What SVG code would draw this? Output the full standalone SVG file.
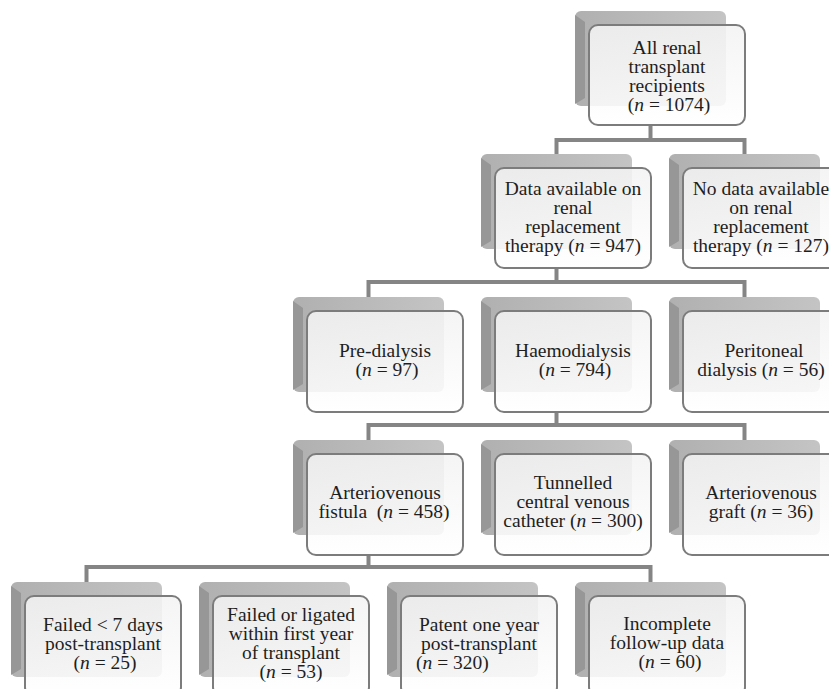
<svg xmlns="http://www.w3.org/2000/svg" width="829" height="689" viewBox="0 0 829 689">
<defs>
<linearGradient id="fg" x1="0" y1="0" x2="0" y2="1">
<stop offset="0" stop-color="#f3f3f3"/>
<stop offset="1" stop-color="#ffffff"/>
</linearGradient>
<linearGradient id="sg" x1="0" y1="0" x2="1" y2="0">
<stop offset="0" stop-color="#b0b0b0"/>
<stop offset="1" stop-color="#c4c4c4"/>
</linearGradient>
</defs>
<style>
.sh{fill:url(#sg);}
.bv{fill:#979797;}
.fr{fill:url(#fg);fill-opacity:0.88;stroke:#7c7c7c;stroke-width:2;}
.cn{fill:none;stroke:#858585;stroke-width:4;}
text{font-family:"Liberation Serif","Times New Roman",serif;font-size:19.5px;fill:#1e1e1e;text-anchor:middle;}
.i{font-style:italic;}
</style>
<rect width="829" height="689" fill="#ffffff"/>
<g id="connectors">
<path class="cn" d="M650.5,125V140M556.5,154V140H744.5V154"/>
<path class="cn" d="M556.5,268V282M368.5,297V282H744.5V297"/>
<path class="cn" d="M556.5,412V425M368.5,440V425H744.5V440"/>
<path class="cn" d="M368.5,555V567M86.5,582V567H650.5V582"/>
</g>

<g id="n_all">
<rect class="sh" x="575" y="11" width="151" height="95" rx="6"/>
<polygon class="bv" points="575,15 585,22 585,98 575,104"/>
<rect class="fr" x="589" y="25" width="156" height="100" rx="9"/>
<text x="667" y="54">All renal</text>
<text x="667" y="73">transplant</text>
<text x="667" y="92">recipients</text>
<text x="669" y="111">(<tspan class="i">n</tspan> = 1074)</text>
</g>

<g id="n_data">
<rect class="sh" x="481" y="154" width="151" height="95" rx="6"/>
<polygon class="bv" points="481,158 491,165 491,241 481,247"/>
<rect class="fr" x="495" y="168" width="156" height="100" rx="9"/>
<text x="573" y="195">Data available on</text>
<text x="573" y="214">renal</text>
<text x="573" y="233">replacement</text>
<text x="573" y="252">therapy (<tspan class="i">n</tspan> = 947)</text>
</g>

<g id="n_nodata">
<rect class="sh" x="669" y="154" width="151" height="95" rx="6"/>
<polygon class="bv" points="669,158 679,165 679,241 669,247"/>
<rect class="fr" x="683" y="168" width="156" height="100" rx="9"/>
<text x="761" y="195">No data available</text>
<text x="761" y="214">on renal</text>
<text x="761" y="233">replacement</text>
<text x="761" y="252">therapy (<tspan class="i">n</tspan> = 127)</text>
</g>

<g id="n_pre">
<rect class="sh" x="293" y="297" width="151" height="95" rx="6"/>
<polygon class="bv" points="293,301 303,308 303,384 293,390"/>
<rect class="fr" x="307" y="311" width="156" height="101" rx="9"/>
<text x="385" y="357">Pre-dialysis</text>
<text x="387" y="376">(<tspan class="i">n</tspan> = 97)</text>
</g>

<g id="n_haemo">
<rect class="sh" x="481" y="297" width="151" height="95" rx="6"/>
<polygon class="bv" points="481,301 491,308 491,384 481,390"/>
<rect class="fr" x="495" y="311" width="156" height="101" rx="9"/>
<text x="573" y="357">Haemodialysis</text>
<text x="575" y="376">(<tspan class="i">n</tspan> = 794)</text>
</g>

<g id="n_perit">
<rect class="sh" x="669" y="297" width="151" height="95" rx="6"/>
<polygon class="bv" points="669,301 679,308 679,384 669,390"/>
<rect class="fr" x="683" y="311" width="156" height="101" rx="9"/>
<text x="764" y="357">Peritoneal</text>
<text x="761" y="376">dialysis (<tspan class="i">n</tspan> = 56)</text>
</g>

<g id="n_avf">
<rect class="sh" x="293" y="440" width="151" height="95" rx="6"/>
<polygon class="bv" points="293,444 303,451 303,527 293,533"/>
<rect class="fr" x="307" y="454" width="156" height="101" rx="9"/>
<text x="385" y="499">Arteriovenous</text>
<text x="384" y="518">fistula&#160; (<tspan class="i">n</tspan> = 458)</text>
</g>

<g id="n_tcvc">
<rect class="sh" x="481" y="440" width="151" height="95" rx="6"/>
<polygon class="bv" points="481,444 491,451 491,527 481,533"/>
<rect class="fr" x="495" y="454" width="156" height="101" rx="9"/>
<text x="573" y="489">Tunnelled</text>
<text x="573" y="508">central venous</text>
<text x="573" y="527">catheter (<tspan class="i">n</tspan> = 300)</text>
</g>

<g id="n_avg">
<rect class="sh" x="669" y="440" width="151" height="95" rx="6"/>
<polygon class="bv" points="669,444 679,451 679,527 669,533"/>
<rect class="fr" x="683" y="454" width="156" height="101" rx="9"/>
<text x="761" y="499">Arteriovenous</text>
<text x="761" y="518">graft (<tspan class="i">n</tspan> = 36)</text>
</g>

<g id="n_fail7">
<rect class="sh" x="11" y="582" width="151" height="95" rx="6"/>
<polygon class="bv" points="11,586 21,593 21,669 11,675"/>
<rect class="fr" x="25" y="596" width="156" height="100" rx="9"/>
<text x="103" y="631">Failed &lt; 7 days</text>
<text x="103" y="650">post-transplant</text>
<text x="105" y="669">(<tspan class="i">n</tspan> = 25)</text>
</g>

<g id="n_fail1y">
<rect class="sh" x="199" y="582" width="151" height="95" rx="6"/>
<polygon class="bv" points="199,586 209,593 209,669 199,675"/>
<rect class="fr" x="213" y="596" width="156" height="100" rx="9"/>
<text x="291" y="621">Failed or ligated</text>
<text x="291" y="640">within first year</text>
<text x="291" y="659">of transplant</text>
<text x="291" y="678">(<tspan class="i">n</tspan> = 53)</text>
</g>

<g id="n_patent">
<rect class="sh" x="387" y="582" width="151" height="95" rx="6"/>
<polygon class="bv" points="387,586 397,593 397,669 387,675"/>
<rect class="fr" x="401" y="596" width="156" height="100" rx="9"/>
<text x="479" y="631">Patent one year</text>
<text x="479" y="650">post-transplant</text>
<text x="416" y="669" style="text-anchor:start">(<tspan class="i">n</tspan> = 320)</text>
</g>

<g id="n_incomplete">
<rect class="sh" x="575" y="582" width="151" height="95" rx="6"/>
<polygon class="bv" points="575,586 585,593 585,669 575,675"/>
<rect class="fr" x="589" y="596" width="156" height="100" rx="9"/>
<text x="667" y="630">Incomplete</text>
<text x="667" y="649">follow-up data</text>
<text x="670" y="668">(<tspan class="i">n</tspan> = 60)</text>
</g>
</svg>
